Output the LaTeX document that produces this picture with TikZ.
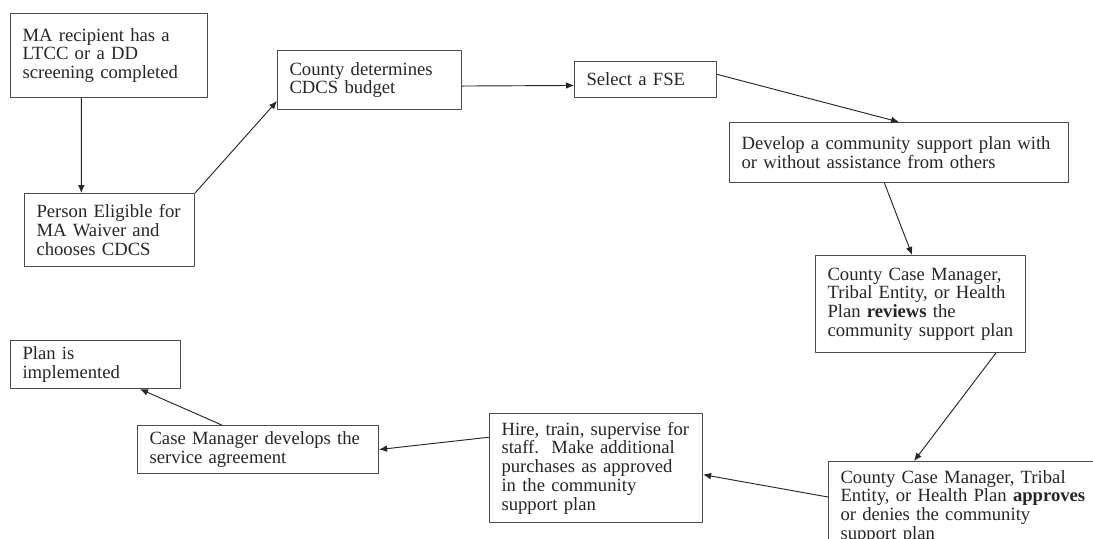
\documentclass[tikz,border=0pt]{standalone}
\usepackage{fontspec}
\setmainfont{Liberation Serif}
\usetikzlibrary{calc,arrows.meta}
\begin{document}
\begin{tikzpicture}[x=0.75pt,y=-0.75pt,line join=round,>={Latex[length=6pt,width=5pt]},
    font=\fontsize{14}{14.1}\selectfont,
    stepbox/.style={draw=black!70,line width=0.8pt,anchor=north west,align=left,
        inner xsep=9pt,inner ysep=2pt,text=black!85},
    flow/.style={->,draw=black!85,line width=0.7pt}]
    \useasboundingbox (0,0) rectangle (1093,539);
    % boxes, placed at their top left corners
    \node[stepbox,text width=129.75pt,minimum height=63pt] (ma) at (10,13)
        {MA recipient has a\\LTCC or a DD\\screening completed};
    \node[stepbox,text width=109.5pt,minimum height=54.75pt] (elig) at (24,193)
        {Person Eligible for\\MA Waiver and\\chooses CDCS};
    \node[stepbox,text width=120pt,minimum height=44.25pt] (budget) at (277,50)
        {County determines\\CDCS budget};
    \node[stepbox,text width=88.5pt,minimum height=27pt] (fse) at (574,61)
        {Select a FSE};
    \node[stepbox,text width=236.25pt,minimum height=45pt] (plan) at (729,122)
        {Develop a community support plan with\\or without assistance from others};
    \node[stepbox,text width=139.5pt,minimum height=72.75pt] (review) at (815,255)
        {County Case Manager,\\Tribal Entity, or Health\\Plan \textbf{reviews} the\\community support plan};
    \node[stepbox,text width=195pt,minimum height=68pt] (approve) at (828,461)
        {County Case Manager, Tribal\\Entity, or Health Plan \textbf{approves}\\or denies the community\\support plan};
    \node[stepbox,text width=141.75pt,minimum height=81.75pt] (hire) at (489,413)
        {Hire, train, supervise for\\staff.\ \ Make additional\\purchases as approved\\in the community\\support plan};
    \node[stepbox,text width=162.75pt,minimum height=36pt] (agree) at (137,425)
        {Case Manager develops the\\service agreement};
    \node[stepbox,text width=109.5pt,minimum height=36pt] (impl) at (10,340)
        {Plan is\\implemented};
    % connectors
    \draw[flow] ($(ma.south west)!0.36!(ma.south east)$) -- ($(elig.north west)!0.335!(elig.north east)$);
    \draw[flow] (elig.north east) -- ($(budget.north west)!0.85!(budget.south west)$);
    \draw[flow] ($(budget.north east)!0.6!(budget.south east)$) -- ($(fse.north west)!0.66!(fse.south west)$);
    \draw[flow] ($(fse.north east)!0.36!(fse.south east)$) -- (plan.north);
    \draw[flow] ($(plan.south west)!0.457!(plan.south east)$) -- ($(review.north west)!0.46!(review.north east)$);
    \draw[flow] ($(review.south west)!0.857!(review.south east)$) -- ($(approve.north west)+(86,0)$);
    \draw[flow] ($(approve.north west)+(0,36)$) -- ($(hire.north east)!0.56!(hire.south east)$);
    \draw[flow] ($(hire.north west)!0.22!(hire.south west)$) -- (agree.east);
    \draw[flow] ($(agree.north west)!0.35!(agree.north east)$) -- ($(impl.south west)!0.76!(impl.south east)$);
\end{tikzpicture}
\end{document}
